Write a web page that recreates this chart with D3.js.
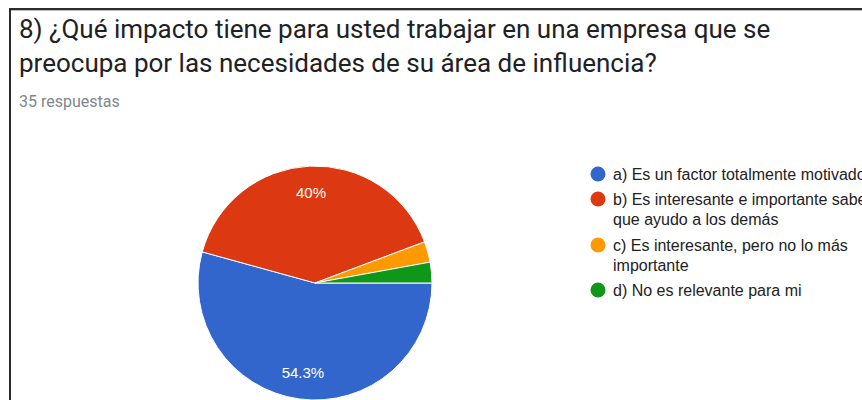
<!DOCTYPE html>
<html>
<head>
<meta charset="utf-8">
<script src="https://cdn.jsdelivr.net/npm/d3@7/dist/d3.min.js"></script>
<style>
  html, body { margin: 0; padding: 0; background: #fff; overflow: hidden; }
  svg { display: block; }
</style>
</head>
<body>
<svg id="chart" width="862" height="400"></svg>
<script>
const titleLines = ["8) ¿Qué impacto tiene para usted trabajar en una empresa que se",
                    "preocupa por las necesidades de su área de influencia?"];
const subtitle = "35 respuestas";
const categories = ["a) Es un factor totalmente motivador",
                    "b) Es interesante e importante saber que ayudo a los demás",
                    "c) Es interesante, pero no lo más importante",
                    "d) No es relevante para mi"];
const legendLines = [["a) Es un factor totalmente motivador"],
                     ["b) Es interesante e importante saber", "que ayudo a los demás"],
                     ["c) Es interesante, pero no lo más", "importante"],
                     ["d) No es relevante para mi"]];
const counts = [19, 14, 1, 1];
const colors = ["#3366cc", "#dc3912", "#ff9900", "#109618"];

const svg = d3.select("#chart");

// frame
svg.append("line").attr("x1", 9).attr("x2", 862).attr("y1", 9).attr("y2", 9)
  .attr("stroke", "#2b2b2b").attr("stroke-width", 2);
svg.append("line").attr("x1", 9).attr("x2", 862).attr("y1", 10.5).attr("y2", 10.5)
  .attr("stroke", "#bdbdbd").attr("stroke-width", 1);
svg.append("line").attr("x1", 10).attr("x2", 10).attr("y1", 8).attr("y2", 400)
  .attr("stroke", "#2b2b2b").attr("stroke-width", 2);

// title
svg.selectAll("text.title").data(titleLines).enter().append("text")
  .attr("class", "title")
  .attr("x", 19).attr("y", (d, i) => 38 + i * 34)
  .attr("font-family", "Roboto, Arial, sans-serif").attr("font-size", 26)
  .attr("fill", "#202124").text(d => d);

svg.append("text").attr("x", 19).attr("y", 107)
  .attr("font-family", "Roboto, Arial, sans-serif").attr("font-size", 16)
  .attr("fill", "#80868b").text(subtitle);

// pie
const cx = 315, cy = 283, r = 117;
const total = d3.sum(counts);
const pie = d3.pie().sort(null).startAngle(Math.PI / 2).endAngle(Math.PI / 2 + 2 * Math.PI);
const arcs = pie(counts);
const arc = d3.arc().innerRadius(0).outerRadius(r);
const labelArc = d3.arc().innerRadius(r * 0.77).outerRadius(r * 0.77);

const g = svg.append("g").attr("transform", `translate(${cx},${cy})`);
g.selectAll("path").data(arcs).enter().append("path")
  .attr("d", arc).attr("fill", (d, i) => colors[i])
  .attr("stroke", "#fff").attr("stroke-width", 1);

const fmt = v => {
  const p = v / total * 100;
  return (Math.round(p * 10) / 10) + "%";
};
g.selectAll("text").data(arcs.filter(d => d.value / total > 0.05)).enter().append("text")
  .attr("transform", d => `translate(${labelArc.centroid(d)})`)
  .attr("text-anchor", "middle").attr("dy", "0.35em")
  .attr("font-family", "Arial, 'Liberation Sans', sans-serif").attr("font-size", 15)
  .attr("fill", "#fff").text(d => fmt(d.value));

// legend
const legendY = [174, 199, 245, 290];
const lg = svg.append("g");
legendLines.forEach((lines, i) => {
  lg.append("circle").attr("cx", 598).attr("cy", legendY[i]).attr("r", 7.5)
    .attr("fill", colors[i]);
  lines.forEach((t, j) => {
    lg.append("text").attr("x", 613).attr("y", legendY[i] + j * 20).attr("dy", "0.35em")
      .attr("font-family", "Arial, 'Liberation Sans', sans-serif").attr("font-size", 16)
      .attr("fill", "#222").text(t);
  });
});
</script>
</body>
</html>
